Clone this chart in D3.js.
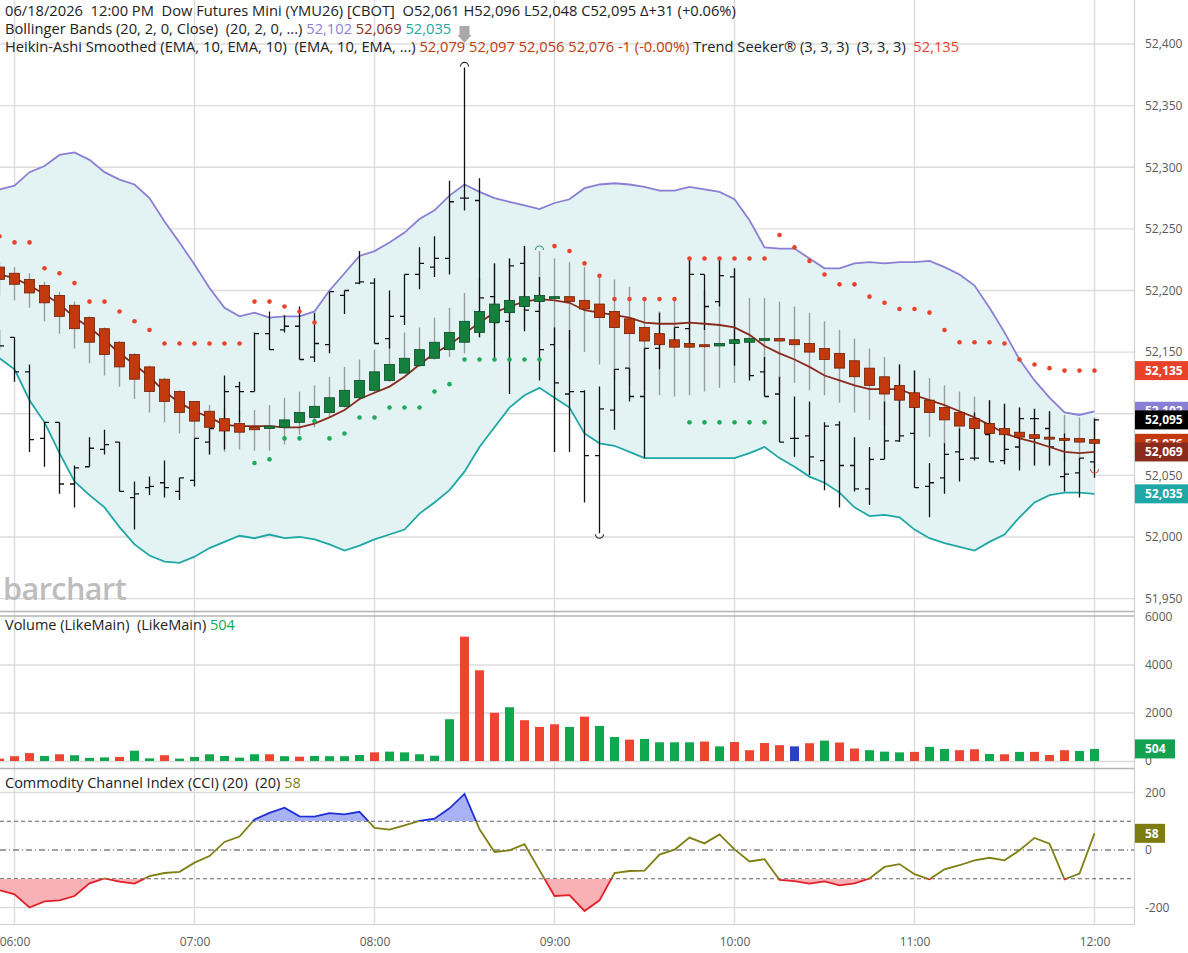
<!DOCTYPE html>
<html><head><meta charset="utf-8">
<script src="https://cdn.jsdelivr.net/npm/d3@7"></script>
<style>body{margin:0;background:#fff;} svg{display:block;} text{font-family:"Open Sans","Noto Sans",sans-serif;}</style>
</head><body><svg id="c" width="1188" height="953"></svg>
<script>
const times = ["05:55","06:00","06:05","06:10","06:15","06:20","06:25","06:30","06:35","06:40","06:45","06:50","06:55","07:00","07:05","07:10","07:15","07:20","07:25","07:30","07:35","07:40","07:45","07:50","07:55","08:00","08:05","08:10","08:15","08:20","08:25","08:30","08:35","08:40","08:45","08:50","08:55","09:00","09:05","09:10","09:15","09:20","09:25","09:30","09:35","09:40","09:45","09:50","09:55","10:00","10:05","10:10","10:15","10:20","10:25","10:30","10:35","10:40","10:45","10:50","10:55","11:00","11:05","11:10","11:15","11:20","11:25","11:30","11:35","11:40","11:45","11:50","11:55","12:00"];
const hourTicks = ["06:00","07:00","08:00","09:00","10:00","11:00","12:00"];
const priceTicks = [51950,52000,52050,52100,52150,52200,52250,52300,52350,52400];
const volTicks = [0,2000,4000,6000];
const cciTicks = [-200,0,200];

const barOpen  = [52164,52162,52134,52080,52093,52043,52057,52071,52077,52032,52040,52044,52037,52046,52077,52088,52122,52118,52165,52168,52171,52146,52156,52196,52206,52206,52161,52179,52213,52219,52226,52275,52273,52195,52175,52222,52183,52156,52116,52118,52066,52103,52137,52114,52153,52158,52169,52213,52191,52211,52160,52134,52116,52080,52082,52062,52091,52058,52039,52063,52078,52084,52041,52048,52069,52064,52083,52062,52073,52096,52088,52049,52052,52061];
const barHigh  = [52168,52162,52140,52093,52093,52058,52081,52087,52077,52045,52049,52062,52048,52080,52088,52131,52126,52166,52183,52180,52187,52182,52199,52200,52232,52210,52200,52213,52235,52244,52289,52381,52291,52222,52226,52236,52211,52170,52168,52119,52122,52136,52137,52153,52182,52170,52226,52213,52226,52218,52160,52146,52130,52114,52110,52093,52094,52081,52073,52110,52140,52135,52060,52076,52088,52101,52111,52108,52105,52104,52102,52084,52064,52096];
const barLow   = [52152,52126,52069,52057,52035,52024,52057,52067,52037,52006,52034,52032,52030,52041,52067,52071,52093,52118,52152,52166,52144,52142,52149,52181,52205,52157,52153,52172,52201,52211,52213,52265,52162,52144,52116,52167,52127,52069,52069,52028,52003,52087,52110,52064,52136,52158,52154,52168,52187,52139,52127,52114,52077,52065,52050,52038,52024,52037,52026,52063,52077,52040,52016,52035,52045,52062,52061,52059,52054,52058,52058,52037,52032,52048];
const barClose = [52155,52134,52079,52093,52043,52056,52072,52075,52037,52035,52041,52040,52048,52080,52088,52118,52118,52165,52152,52171,52144,52157,52199,52200,52207,52157,52179,52213,52222,52226,52272,52275,52194,52174,52220,52184,52152,52125,52118,52066,52104,52136,52114,52153,52157,52170,52213,52187,52212,52160,52131,52114,52077,52080,52065,52090,52058,52039,52063,52078,52082,52040,52044,52067,52063,52064,52061,52071,52096,52096,52073,52051,52064,52095];

const haOpen  = [52219,52214,52209,52204,52196,52188,52178,52169,52158,52148,52138,52128,52118,52110,52102,52096,52092,52089,52088,52089,52093,52097,52101,52106,52113,52119,52127,52133,52139,52145,52152,52158,52166,52174,52182,52187,52191,52194,52195,52192,52189,52183,52177,52170,52165,52160,52157,52156,52155,52157,52158,52160,52161,52160,52157,52153,52149,52143,52137,52130,52123,52117,52111,52105,52101,52096,52092,52088,52085,52083,52081,52080,52080,52079];
const haHigh  = [52223,52219,52214,52207,52199,52191,52179,52170,52159,52149,52139,52129,52119,52110,52107,52105,52103,52103,52107,52113,52118,52123,52130,52138,52144,52152,52158,52166,52170,52178,52186,52198,52210,52222,52226,52236,52232,52226,52223,52219,52213,52209,52203,52192,52183,52194,52226,52200,52226,52218,52194,52194,52191,52187,52182,52175,52168,52161,52153,52146,52140,52135,52129,52123,52118,52114,52111,52108,52105,52104,52102,52099,52097,52097];
const haLow   = [52196,52192,52186,52175,52165,52153,52141,52131,52122,52112,52101,52093,52084,52079,52067,52069,52071,52070,52070,52075,52083,52089,52097,52105,52111,52117,52126,52133,52138,52144,52146,52149,52162,52160,52168,52168,52168,52156,52152,52150,52140,52127,52123,52119,52115,52114,52115,52118,52121,52125,52130,52117,52117,52125,52119,52115,52109,52101,52095,52091,52083,52079,52081,52075,52071,52067,52064,52062,52061,52058,52058,52061,52062,52056];
const haClose = [52209,52205,52198,52190,52179,52169,52158,52148,52138,52128,52118,52110,52101,52094,52089,52086,52085,52087,52090,52095,52101,52106,52113,52119,52127,52134,52140,52145,52152,52158,52166,52175,52183,52189,52192,52195,52196,52195,52191,52185,52178,52170,52165,52159,52156,52154,52154,52155,52157,52160,52161,52161,52159,52156,52150,52144,52137,52130,52123,52116,52111,52105,52101,52095,52090,52088,52084,52083,52081,52080,52080,52079,52077,52076];

const bbUpper  = [52282,52285,52296,52301,52310,52312,52306,52296,52290,52286,52275,52256,52239,52221,52202,52186,52179,52182,52178,52179,52179,52183,52200,52214,52228,52232,52239,52247,52258,52265,52277,52286,52280,52275,52272,52269,52266,52271,52274,52283,52286,52287,52286,52284,52281,52281,52284,52282,52280,52274,52257,52235,52234,52234,52226,52218,52218,52222,52223,52222,52223,52223,52224,52219,52213,52204,52186,52166,52144,52127,52113,52101,52099,52102];
const bbMiddle = [52213,52210,52204,52197,52189,52178,52170,52160,52149,52140,52130,52118,52109,52102,52097,52091,52090,52090,52090,52089,52089,52092,52097,52103,52112,52117,52122,52130,52140,52149,52156,52165,52174,52182,52187,52191,52193,52192,52190,52184,52182,52180,52178,52174,52173,52173,52174,52173,52172,52170,52164,52155,52149,52144,52138,52131,52127,52123,52120,52120,52120,52115,52111,52107,52102,52097,52091,52084,52080,52077,52073,52069,52068,52069];
const bbLower  = [52145,52136,52111,52093,52068,52045,52034,52024,52008,51994,51985,51980,51979,51984,51991,51996,52001,51999,52002,51999,52000,51998,51994,51989,51993,51998,52002,52006,52019,52028,52038,52053,52073,52089,52105,52115,52121,52113,52105,52084,52076,52074,52069,52064,52064,52064,52064,52064,52064,52064,52068,52073,52064,52057,52049,52044,52036,52024,52017,52018,52016,52006,51999,51995,51992,51989,51996,52002,52016,52028,52034,52036,52036,52035];

const tsSell = [52244,52239,52239,52218,52214,52206,52191,52191,52183,52175,52168,52157,52157,52157,52157,52157,52157,52191,52191,52187,52183,52174,null,null,null,null,null,null,null,null,null,null,null,null,null,null,null,52236,52232,52222,52212,52193,52193,52193,52193,52193,52226,52226,52226,52226,52226,52226,52245,52235,52224,52213,52205,52205,52195,52190,52185,52185,52182,52168,52158,52158,52158,52157,52144,52140,52137,52135,52135,52135];
const tsBuy = [null,null,null,null,null,null,null,null,null,null,null,null,null,null,null,null,null,52060,52063,52080,52080,52094,52080,52084,52097,52097,52105,52105,52105,52118,52124,52144,52144,52144,52144,52144,52144,null,null,null,null,null,null,null,null,null,52093,52093,52093,52093,52093,52093,null,null,null,null,null,null,null,null,null,null,null,null,null,null,null,null,null,null,null,null,null,null];

const volume = [100,200,330,210,280,240,130,150,170,430,110,240,100,170,280,210,140,280,280,200,180,210,200,200,250,360,390,360,280,220,1740,5180,3780,2010,2240,1700,1420,1530,1420,1850,1460,1000,890,920,780,780,780,810,610,790,450,750,660,610,740,850,770,520,450,390,360,380,590,500,450,490,290,280,380,380,250,450,420,504];
const volumeDir = ["d","d","d","u","d","u","u","u","d","u","u","d","u","u","u","u","u","u","d","u","d","u","u","u","u","d","u","u","u","u","u","d","d","d","u","d","d","d","u","d","u","u","d","u","u","u","u","d","u","d","d","d","d","f","d","u","d","d","u","u","u","d","u","u","d","d","u","d","u","d","d","d","u","u"];

const cci = [-140,-154,-200,-179,-175,-160,-116,-99,-110,-117,-91,-80,-76,-44,-21,28,47,106,129,147,117,116,128,124,133,77,71,86,101,109,145,195,72,-7,-1,20,-70,-160,-157,-212,-175,-80,-73,-72,-16,1,43,23,54,2,-40,-32,-104,-108,-117,-109,-123,-116,-99,-59,-49,-84,-102,-67,-53,-36,-27,-36,-1,42,22,-102,-82,58];

// swing markers: [time, series, position, colour]
const swingMarks = [["08:30","barHigh","top","#222"],["09:15","barLow","bottom","#222"],["08:55","haHigh","top","#2a9a6a"],["12:00","haLow","bottom","#d9512c"]];

// value flags on right axis (price panel)
const priceFlags = [
  {v:52135, c:"#e8432a"},
  {v:52102, c:"#8a7fd4"},
  {v:52095, c:"#000000"},
  {v:52076, c:"#c1390c"},
  {v:52069, c:"#8b2b1d"},
  {v:52035, c:"#1fa7a6"}
];

const svg = d3.select("#c");
const PR = 1134;
const parseT = d3.timeParse("%H:%M");
const x = d3.scaleTime().domain([parseT("06:00"), parseT("12:00")]).range([14.5, 1094.5]);
const yP = d3.scaleLinear().domain([51950, 52400]).range([598.6, 44]);
const yV = d3.scaleLinear().domain([0, 6000]).range([761, 617]);
const yC = d3.scaleLinear().domain([-200, 200]).range([907.5, 792.5]);

const data = times.map((t,i)=>({
  t: parseT(t), o: barOpen[i], h: barHigh[i], l: barLow[i], c: barClose[i],
  ho: haOpen[i], hh: haHigh[i], hl: haLow[i], hc: haClose[i],
  up: bbUpper[i], mid: bbMiddle[i], lo: bbLower[i],
  sell: tsSell[i], buy: tsBuy[i], vol: volume[i], vd: volumeDir[i], cci: cci[i]
}));

const defs = svg.append("defs");
function clip(id, x0, y0, w, h){ defs.append("clipPath").attr("id", id).append("rect").attr("x", x0).attr("y", y0).attr("width", w).attr("height", h); }
clip("cMain", 0, 0, PR, 611);
clip("cVol", 0, 616, PR, 152);
clip("cCci", 0, 769, PR, 155);
clip("cCciHi", 0, 769, PR, yC(100) - 769);
clip("cCciMid", 0, yC(100), PR, yC(-100) - yC(100));
clip("cCciLo", 0, yC(-100), PR, 924 - yC(-100));

// grid
const grid = svg.append("g").attr("stroke", "#dcdcdc").attr("stroke-width", 1.4);
grid.selectAll(".vg").data(hourTicks).join("line")
  .attr("x1", d=>x(parseT(d))).attr("x2", d=>x(parseT(d))).attr("y1", 0).attr("y2", 924);
grid.selectAll(".hp").data(priceTicks).join("line")
  .attr("x1", 0).attr("x2", PR).attr("y1", d=>yP(d)).attr("y2", d=>yP(d));
grid.selectAll(".hv").data(volTicks.filter(d=>d>0 && d<6000)).join("line")
  .attr("x1", 0).attr("x2", PR).attr("y1", d=>yV(d)).attr("y2", d=>yV(d));
grid.selectAll(".hc").data(cciTicks.filter(d=>d!==0)).join("line")
  .attr("x1", 0).attr("x2", PR).attr("y1", d=>yC(d)).attr("y2", d=>yC(d));
grid.append("line").attr("x1",0).attr("x2",PR).attr("y1",yV(0)+0.5).attr("y2",yV(0)+0.5);

// watermark
svg.append("text").attr("x", 3).attr("y", 600).attr("font-size", 30.5).attr("font-weight", 600)
  .attr("fill", "#bdbdbd").attr("letter-spacing", -0.5).text("barchart");

// ===== main panel =====
const gm = svg.append("g").attr("clip-path", "url(#cMain)");
gm.append("path").datum(data).attr("fill", "#e3f3f4")
  .attr("d", d3.area().x(d=>x(d.t)).y0(d=>yP(d.lo)).y1(d=>yP(d.up)));
gm.append("path").datum(data).attr("fill", "none").attr("stroke", "#8a7fd4").attr("stroke-width", 1.8)
  .attr("d", d3.line().x(d=>x(d.t)).y(d=>yP(d.up)));
gm.append("path").datum(data).attr("fill", "none").attr("stroke", "#1fa7a6").attr("stroke-width", 1.8)
  .attr("d", d3.line().x(d=>x(d.t)).y(d=>yP(d.lo)));

// HA wicks
gm.append("g").attr("stroke", "#9c9c9c").attr("stroke-width", 1.4)
  .selectAll("line").data(data).join("line")
  .attr("x1", d=>x(d.t)).attr("x2", d=>x(d.t)).attr("y1", d=>yP(d.hh)).attr("y2", d=>yP(d.hl));

// OHLC bars
gm.append("g").attr("stroke", "#111").attr("stroke-width", 1.3).attr("fill", "none")
  .selectAll("path").data(data).join("path")
  .attr("d", d=>{ const X = x(d.t); return `M${X},${yP(d.h)}V${yP(d.l)}M${X-4.5},${yP(d.o)}H${X}M${X},${yP(d.c)}H${X+4.5}`; });

// BB middle
gm.append("path").datum(data).attr("fill", "none").attr("stroke", "#8b2b1d").attr("stroke-width", 1.8)
  .attr("d", d3.line().x(d=>x(d.t)).y(d=>yP(d.mid)));

// HA bodies
gm.append("g").selectAll("rect").data(data).join("rect")
  .attr("x", d=>x(d.t)-5).attr("width", 10)
  .attr("y", d=>yP(Math.max(d.ho, d.hc)))
  .attr("height", d=>Math.max(2, Math.abs(yP(d.ho)-yP(d.hc))))
  .attr("fill", d=>d.hc >= d.ho ? "#15803d" : "#c1390c")
  .attr("stroke", d=>d.hc >= d.ho ? "#0b4a24" : "#6e2006").attr("stroke-width", 0.8);

// Trend seeker dots
gm.append("g").selectAll("circle").data(data.filter(d=>d.sell!==null)).join("circle")
  .attr("cx", d=>x(d.t)).attr("cy", d=>yP(d.sell)).attr("r", 2.3).attr("fill", "#e8432a");
gm.append("g").selectAll("circle").data(data.filter(d=>d.buy!==null)).join("circle")
  .attr("cx", d=>x(d.t)).attr("cy", d=>yP(d.buy)).attr("r", 2.3).attr("fill", "#22aa5c");

// swing arcs
const seriesKey = {barHigh:"h", barLow:"l", haHigh:"hh", haLow:"hl"};
gm.append("g").selectAll("path").data(swingMarks).join("path")
  .attr("fill", "none").attr("stroke", d=>d[3]).attr("stroke-width", 1.1)
  .attr("d", m=>{
    const d = data.find(e=>+e.t === +parseT(m[0]));
    const X = x(d.t), Y = yP(d[seriesKey[m[1]]]);
    if (m[2]==="top") return `M${X-4},${Y-1}A4,4 0 0 1 ${X+4},${Y-1}`;
    return `M${X-4},${Y+1}A4,4 0 0 0 ${X+4},${Y+1}`;
  });

// grey event arrow above the spike bar
{
  const d = data.find(e=>+e.t === +parseT("08:30"));
  const X = x(d.t);
  svg.append("path").attr("fill", "#a9a9a9")
    .attr("d", `M${X-5},26H${X+5}V35H${X+7}L${X},43L${X-7},35H${X-5}Z`);
}

// ===== volume panel =====
const colV = {u:"#10a84f", d:"#ee4432", f:"#2b40c8"};
svg.append("g").attr("clip-path", "url(#cVol)").selectAll("rect").data(data).join("rect")
  .attr("x", d=>x(d.t)-4.5).attr("width", 9)
  .attr("y", d=>yV(d.vol)).attr("height", d=>yV(0)-yV(d.vol))
  .attr("fill", d=>colV[d.vd]);

// ===== CCI panel =====
const gc = svg.append("g").attr("clip-path", "url(#cCci)");
gc.append("line").attr("x1",0).attr("x2",PR).attr("y1",yC(100)).attr("y2",yC(100)).attr("stroke","#555").attr("stroke-dasharray","4,3");
gc.append("line").attr("x1",0).attr("x2",PR).attr("y1",yC(-100)).attr("y2",yC(-100)).attr("stroke","#555").attr("stroke-dasharray","4,3");
gc.append("line").attr("x1",0).attr("x2",PR).attr("y1",yC(0)).attr("y2",yC(0)).attr("stroke","#444").attr("stroke-dasharray","6,3,1,3");
gc.append("path").datum(data).attr("clip-path","url(#cCciHi)").attr("fill","#aab2f6")
  .attr("d", d3.area().x(d=>x(d.t)).y0(yC(100)).y1(d=>yC(d.cci)));
gc.append("path").datum(data).attr("clip-path","url(#cCciLo)").attr("fill","#f8b2b6")
  .attr("d", d3.area().x(d=>x(d.t)).y0(yC(-100)).y1(d=>yC(d.cci)));
const cciLine = d3.line().x(d=>x(d.t)).y(d=>yC(d.cci));
[["cCciHi","#1f2fd6"],["cCciMid","#7f7f14"],["cCciLo","#e3202a"]].forEach(([c,col])=>{
  gc.append("path").datum(data).attr("clip-path",`url(#${c})`).attr("fill","none")
    .attr("stroke", col).attr("stroke-width", 1.8).attr("d", cciLine);
});

// panel separators and border
const sep = svg.append("g").attr("stroke", "#b4b4b4").attr("stroke-width", 1.6);
[611.5, 616, 768.5].forEach(y=> sep.append("line").attr("x1",0).attr("x2",PR).attr("y1",y).attr("y2",y));
svg.append("line").attr("x1",0).attr("x2",PR).attr("y1",924.5).attr("y2",924.5).attr("stroke","#cfcfcf");
svg.append("line").attr("x1",PR+0.5).attr("x2",PR+0.5).attr("y1",0).attr("y2",925).attr("stroke","#cfcfcf").attr("stroke-width",1.2);

// ===== axes =====
function styleAxis(g){ g.select(".domain").remove(); g.selectAll("text").attr("font-size", 12).attr("fill", "#5a5a5a").attr("font-family", "'Open Sans', sans-serif"); g.selectAll("line").remove(); }
svg.append("g").attr("transform", `translate(${PR+6},0)`)
  .call(d3.axisRight(yP).tickValues(priceTicks).tickFormat(d3.format(",")).tickSize(0).tickPadding(5)).call(styleAxis);
svg.append("g").attr("transform", `translate(${PR+6},0)`)
  .call(d3.axisRight(yV).tickValues(volTicks).tickFormat(d=>String(d)).tickSize(0).tickPadding(5)).call(styleAxis);
svg.append("g").attr("transform", `translate(${PR+6},0)`)
  .call(d3.axisRight(yC).tickValues(cciTicks).tickFormat(d=>String(d)).tickSize(0).tickPadding(5)).call(styleAxis);
svg.append("g").attr("transform", `translate(0,933)`)
  .call(d3.axisBottom(x).tickValues(hourTicks.map(parseT)).tickFormat(d3.timeFormat("%H:%M")).tickSize(0).tickPadding(4)).call(styleAxis);

// value flags
function flag(y, val, col, w){
  const g = svg.append("g");
  g.append("rect").attr("x", PR+1).attr("y", y-9.5).attr("width", w).attr("height", 19).attr("fill", col);
  g.append("text").attr("x", PR+11).attr("y", y).attr("dy", "0.35em").attr("font-size", 12).attr("font-weight", 700)
    .attr("fill", "#fff").text(val);
}
priceFlags.forEach(f=> flag(yP(f.v), d3.format(",")(f.v), f.c, 53));
flag(yV(volume[volume.length-1]), String(volume[volume.length-1]), "#12a150", 40);
flag(yC(cci[cci.length-1]), String(cci[cci.length-1]), "#7c7c12", 30);

// ===== legends =====
function legend(y, parts, fs){
  const t = svg.append("text").attr("x", 5).attr("y", y).attr("font-size", fs || 14.7).attr("style", "white-space:pre");
  parts.forEach(([s,c])=> t.append("tspan").attr("fill", c).text(s));
}
const last = data.length-1;
const fmt = d3.format(",");
legend(16, [["06/18/2026  12:00 PM  Dow Futures Mini (YMU26) [CBOT]  ", "#222"],
  [`O${fmt(barOpen[last])} H${fmt(barHigh[last])} L${fmt(barLow[last])} C${fmt(barClose[last])} Δ+31 (+0.06%)`, "#222"]]);
legend(34, [["Bollinger Bands (20, 2, 0, Close)  (20, 2, 0, ...) ", "#222"], [fmt(bbUpper[last])+" ", "#8a7fd4"], [fmt(bbMiddle[last])+" ", "#8b2b1d"], [fmt(bbLower[last]), "#1fa7a6"]]);
legend(52, [["Heikin-Ashi Smoothed (EMA, 10, EMA, 10)  (EMA, 10, EMA, ...) ", "#222"],
  [`${fmt(haOpen[last])} ${fmt(haHigh[last])} ${fmt(haLow[last])} ${fmt(haClose[last])} -1 (-0.00%) `, "#c1390c"],
  ["Trend Seeker® (3, 3, 3)  (3, 3, 3)  ", "#222"], [fmt(tsSell[last]), "#e8432a"]]);
legend(630, [["Volume (LikeMain)  (LikeMain) ", "#222"], [String(volume[last]), "#10a84f"]], 14.5);
legend(788, [["Commodity Channel Index (CCI) (20)  (20) ", "#222"], [String(cci[last]), "#7f7f14"]], 14.5);
</script></body></html>
